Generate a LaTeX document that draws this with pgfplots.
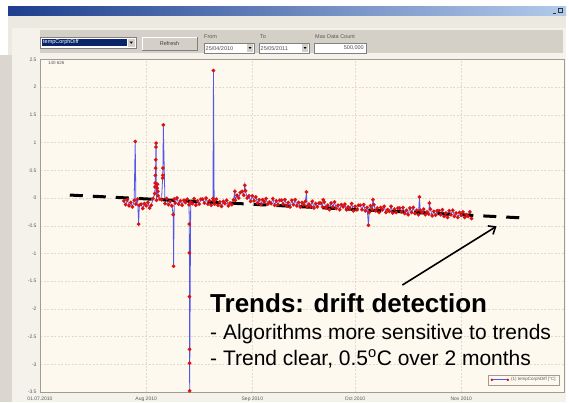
\documentclass[border=0pt]{standalone}
\usepackage{pgfplots}
\pgfplotsset{compat=1.18}
\usepackage{fontspec}
\setmainfont{Liberation Sans}
\usetikzlibrary{arrows.meta}

\definecolor{winbg}{HTML}{ECE9E1}
\definecolor{panel}{HTML}{F4F2EB}
\definecolor{toolbar}{HTML}{D4D0C8}
\definecolor{plotbg}{HTML}{FDF9EF}
\definecolor{gridc}{HTML}{E0DBCE}
\definecolor{framec}{HTML}{A09C94}
\definecolor{seriesline}{HTML}{5555E8}
\definecolor{seriesmark}{HTML}{DD1010}
\definecolor{titleL}{HTML}{1E3E8E}
\definecolor{titleR}{HTML}{B2CAEA}
\definecolor{selblue}{HTML}{0A246A}
\definecolor{labelc}{HTML}{5A5A5A}

\begin{document}
\begin{tikzpicture}
\useasboundingbox (0,0) rectangle (569pt,-402pt);
% window chrome (units: 1pt, y downwards)
\begin{scope}[x=1pt,y=-1pt]
  \fill[white] (0,0) rectangle (569,402);
  \shade[left color=titleL, right color=titleR] (8,6) rectangle (566,16);
  \fill[black!80] (553,12.5) rectangle (556,13.3);
  \draw[black!80, line width=0.6pt] (558.5,8.5) rectangle (562.5,12.5);
  \fill[winbg] (8,16) rectangle (566,402);
  \fill[toolbar!85!white] (0,55) rectangle (12,402);
  \fill[panel] (12,28) rectangle (566,402);
  \fill[toolbar] (40,30) rectangle (563,53);
  % series selector
  \fill[white] (40,37) rectangle (136,48);
  \draw[gray, line width=0.4pt] (40,37) rectangle (136,48);
  \fill[selblue] (42,39) rectangle (127,46);
  \node[anchor=west, inner sep=0, text=white, font=\fontsize{5.5}{6}\selectfont] at (43,42.5) {tempCorphDiff};
  \fill[toolbar] (127.5,38.5) rectangle (135,47);
  \fill[black] (129.5,41.5) -- (133,41.5) -- (131.25,43.8) -- cycle;
  % refresh button
  \fill[toolbar] (142,37) rectangle (197,50);
  \draw[white, line width=0.6pt] (142,50) -- (142,37) -- (197,37);
  \draw[gray, line width=0.6pt] (142,50) -- (197,50) -- (197,37);
  \node[inner sep=0, text=black!75, font=\fontsize{5.5}{6}\selectfont] at (169.5,43.5) {Refresh};
  % date range and count
  \node[anchor=west, inner sep=0, text=black!65, font=\fontsize{5.5}{6}\selectfont] at (204,36.5) {From};
  \fill[white] (204,43) rectangle (254,53);
  \draw[gray, line width=0.4pt] (204,43) rectangle (254,53);
  \node[anchor=west, inner sep=0, text=black!70, font=\fontsize{5.5}{6}\selectfont] at (205.5,48.3) {25/04/2010};
  \fill[toolbar] (247,44) rectangle (253,52);
  \fill[black] (248.5,47) -- (251.5,47) -- (250,49) -- cycle;
  \node[anchor=west, inner sep=0, text=black!65, font=\fontsize{5.5}{6}\selectfont] at (260,36.5) {To};
  \fill[white] (259,43) rectangle (309,53);
  \draw[gray, line width=0.4pt] (259,43) rectangle (309,53);
  \node[anchor=west, inner sep=0, text=black!70, font=\fontsize{5.5}{6}\selectfont] at (260.5,48.3) {25/05/2011};
  \fill[toolbar] (302,44) rectangle (308,52);
  \fill[black] (303.5,47) -- (306.5,47) -- (305,49) -- cycle;
  \node[anchor=west, inner sep=0, text=black!65, font=\fontsize{5.5}{6}\selectfont] at (315,36.5) {Max Data Count};
  \fill[white] (314,43) rectangle (366,53);
  \draw[gray, line width=0.4pt] (314,43) rectangle (366,53);
  \node[anchor=east, inner sep=0, text=black!70, font=\fontsize{5.5}{6}\selectfont] at (364,48.3) {500,000};
\end{scope}

\begin{axis}[
  at={(40pt,-59.5pt)}, anchor=north west,
  scale only axis, width=524pt, height=332.5pt,
  xmin=0, xmax=153, ymin=-3.5, ymax=2.5,
  axis background/.style={fill=plotbg},
  axis line style={framec, line width=0.6pt},
  xtick={0,31,62,92,123},
  xticklabels={01.07.2010,Aug 2010,Sep 2010,Oct 2010,Nov 2010},
  ytick={-3.5,-3,-2.5,-2,-1.5,-1,-0.5,0,0.5,1,1.5,2,2.5},
  yticklabels={-3.5,-3,-2.5,-2,-1.5,-1,-0.5,0,0.5,1,1.5,2,2.5},
  major tick length=0pt,
  tick label style={font=\fontsize{5}{6}\selectfont, text=labelc},
  xticklabel style={yshift=-1.2pt},
  grid=major,
  major grid style={gridc, dash pattern=on 2pt off 1.5pt, line width=0.5pt},
  legend cell align=left,
  legend style={at={(0.992,0.021)}, anchor=south east, draw=framec, fill=plotbg,
    font=\fontsize{4.5}{5}\selectfont, text=labelc, inner xsep=2pt, inner ysep=0.6pt,
    line width=0.5pt},
]
% temperature difference readings (x: days since 01.07.2010)
\addplot[color=seriesline, line width=0.8pt, mark=*, mark size=1.85pt,
  mark options={color=seriesmark, fill=seriesmark, line width=0.1pt},
  legend image code/.code={
    \draw[seriesline, line width=0.6pt] (0pt,0pt) -- (16pt,0pt);
    \fill[seriesmark] (0pt,0pt) circle (0.8pt) (16pt,0pt) circle (0.8pt);}]
table {
x y
24.5 -0.05
25.0 -0.12
25.5 -0.03
26.0 -0.14
26.5 -0.08
27.0 -0.16
27.5 -0.04
27.8 1.02
28.0 -0.11
28.5 -0.02
28.8 -0.47
29.0 -0.13
29.5 -0.11
30.0 -0.19
30.5 -0.10
31.0 -0.14
31.5 -0.08
32.0 -0.18
32.5 -0.13
33.0 -0.01
33.5 0.08
33.6 0.20
33.65 0.27
33.7 0.41
33.75 0.54
33.8 0.69
33.85 0.92
33.9 0.99
34.0 -0.04
34.2 0.18
34.3 0.25
34.4 0.12
34.5 0.04
35.0 -0.02
35.5 -0.03
35.8 0.36
35.85 0.41
35.9 0.54
36.0 1.32
36.5 -0.10
37.0 -0.01
37.5 -0.12
38.0 -0.06
38.5 -0.14
38.9 -0.30
39.0 -1.23
39.2 -0.02
39.5 -0.09
40.0 0.00
40.5 -0.11
41.0 -0.05
41.5 -0.13
42.0 -0.04
42.5 -0.08
43.0 -0.02
43.5 -0.12
43.6 -0.47
43.62 -0.99
43.64 -1.78
43.66 -2.73
43.68 -2.98
43.7 -3.48
44.0 -0.07
44.5 -0.10
45.0 -0.01
45.5 -0.13
46.0 -0.05
46.5 -0.11
47.0 -0.02
47.5 -0.02
48.0 -0.09
48.5 0.00
49.0 -0.11
49.5 -0.05
50.0 -0.13
50.5 -0.01
50.65 2.30
50.85 -0.06
51.0 -0.11
51.5 -0.02
52.0 -0.13
52.5 -0.07
53.0 -0.15
53.5 -0.06
54.0 -0.10
54.5 -0.04
55.0 -0.14
55.5 -0.09
56.0 -0.12
56.5 -0.03
56.9 0.12
57.0 -0.04
57.5 0.05
58.0 0.00
58.5 0.10
59.0 0.12
59.5 0.05
59.8 0.23
60.0 0.13
60.5 0.00
61.0 0.04
61.5 -0.06
62.0 0.04
62.5 -0.05
63.0 0.02
63.5 -0.09
64.0 -0.03
64.5 -0.12
65.0 -0.03
65.5 -0.07
66.0 -0.01
66.5 -0.11
67.0 -0.07
67.5 -0.10
68.0 -0.01
68.5 -0.13
69.0 -0.05
69.5 -0.12
70.0 -0.04
70.5 -0.04
71.0 -0.11
71.5 -0.03
72.0 -0.14
72.5 -0.08
73.0 -0.16
73.5 -0.04
74.0 -0.12
74.5 -0.03
75.0 -0.14
75.5 -0.08
76.0 -0.16
76.5 -0.08
77.0 -0.12
77.5 -0.06
77.8 0.11
78.0 -0.16
78.5 -0.11
79.0 -0.15
79.5 -0.06
80.0 -0.18
80.5 -0.10
81.0 -0.16
81.5 -0.09
82.0 -0.09
82.5 -0.16
82.7 -0.03
83.0 -0.07
83.5 -0.18
84.0 -0.13
84.5 -0.21
85.0 -0.09
85.5 -0.16
86.0 -0.07
86.5 -0.19
87.0 -0.13
87.5 -0.21
88.0 -0.12
88.5 -0.16
89.0 -0.11
89.5 -0.21
90.0 -0.16
90.5 -0.19
91.0 -0.10
91.5 -0.23
92.0 -0.15
92.5 -0.21
93.0 -0.13
93.5 -0.13
94.0 -0.21
94.5 -0.12
95.0 -0.23
95.5 -0.17
95.9 -0.49
96.1 -0.26
96.5 -0.14
97.0 -0.21
97.2 -0.03
97.5 -0.12
98.0 -0.23
98.5 -0.18
99.0 -0.26
99.5 -0.17
100.0 -0.21
100.5 -0.15
101.0 -0.26
101.5 -0.21
102.0 -0.24
102.5 -0.15
103.0 -0.27
103.5 -0.20
104.0 -0.26
104.5 -0.18
105.0 -0.18
105.5 -0.25
106.0 -0.17
106.5 -0.28
107.0 -0.22
107.5 -0.30
108.0 -0.18
108.5 -0.26
109.0 -0.17
109.5 -0.28
110.0 -0.22
110.5 -0.30
110.8 0.02
111.0 -0.22
111.5 -0.26
112.0 -0.20
112.5 -0.30
113.0 -0.25
113.5 -0.29
113.7 -0.09
114.0 -0.20
114.5 -0.32
115.0 -0.24
115.5 -0.31
116.0 -0.23
116.5 -0.23
117.0 -0.30
117.5 -0.21
118.0 -0.33
118.5 -0.27
119.0 -0.35
119.5 -0.23
120.0 -0.30
120.5 -0.22
121.0 -0.33
121.5 -0.27
122.0 -0.35
122.5 -0.26
123.0 -0.31
123.5 -0.25
124.0 -0.35
124.5 -0.30
125.0 -0.33
125.5 -0.25
126.0 -0.37
};
\addlegendentry{(1) tempCorphDiff [°C]}
% fitted drift line
\addplot[black, line width=3pt, dash pattern=on 13pt off 10pt, forget plot]
  coordinates {(8.7,0.054) (141.4,-0.36)};
% pointer to the drift line
\addplot[black, line width=1.6pt, -{Straight Barb[length=6pt,width=10pt]}, forget plot]
  coordinates {(105.8,-1.57) (133.3,-0.51)};
\end{axis}

\begin{scope}[x=1pt,y=-1pt]
  \node[anchor=west, inner sep=0, text=labelc, font=\fontsize{4.5}{5}\selectfont] at (48,63) {140 626};
  \node[anchor=base west, inner sep=0, font=\bfseries\fontsize{26}{30}\selectfont] at (210,312.5) {Trends: drift detection};
  \node[anchor=base west, inner sep=0, font=\fontsize{21}{25}\selectfont] at (210,339.5) {- Algorithms more sensitive to trends};
  \node[anchor=base west, inner sep=0, font=\fontsize{21}{25}\selectfont] at (210,365) {- Trend clear, 0.5\textsuperscript{o}C over 2 months};
\end{scope}
\end{tikzpicture}
\end{document}
